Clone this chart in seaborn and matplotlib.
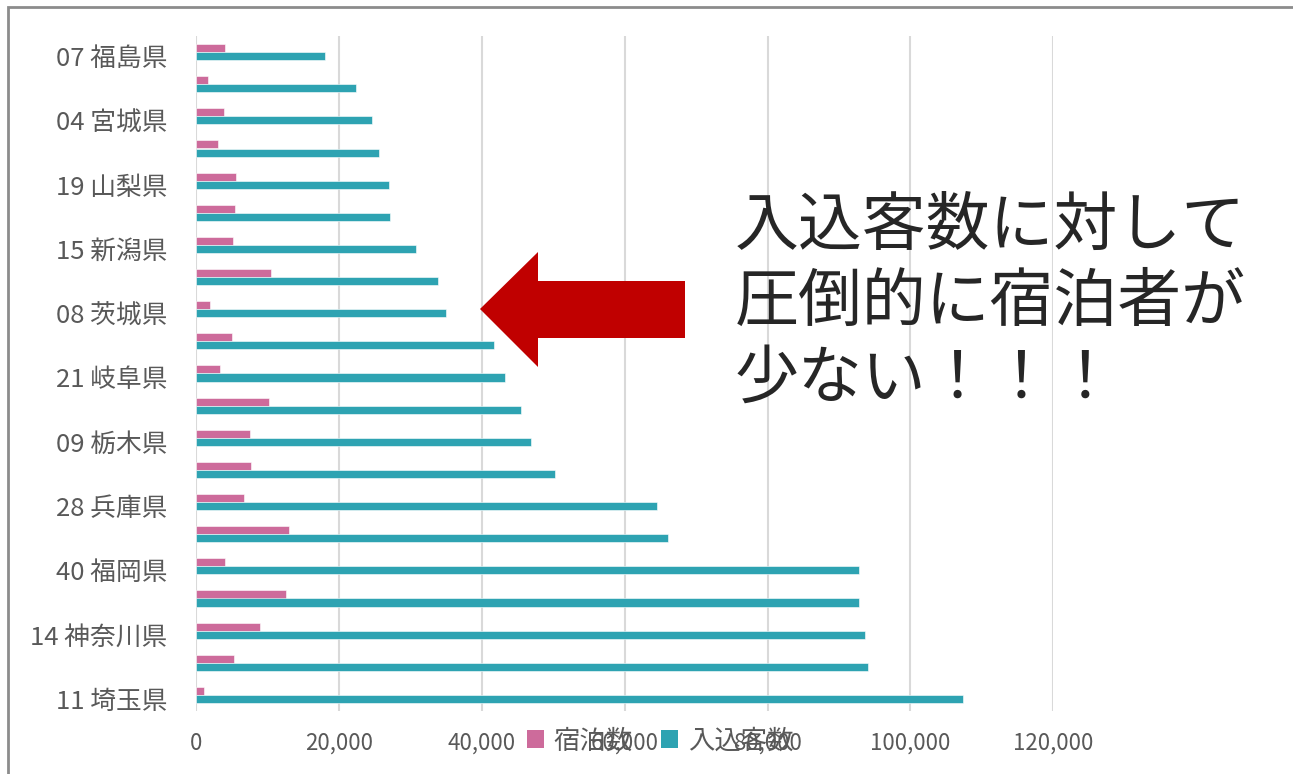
import numpy as np
import pandas as pd
import seaborn as sns
import matplotlib.pyplot as plt
import matplotlib.transforms as mtrans
from matplotlib.patches import Patch, Polygon, Rectangle
from matplotlib.ticker import FuncFormatter

sns.set_theme(style="white")
plt.rcParams['font.family'] = ['Noto Sans CJK JP', 'DejaVu Sans']

# categories top to bottom (only every other label is shown in the chart)
prefs = ['07 福島県', '29 奈良県', '04 宮城県', '25 滋賀県', '19 山梨県', '34 広島県',
         '15 新潟県', '17 石川県', '08 茨城県', '33 岡山県', '21 岐阜県', '10 群馬県',
         '09 栃木県', '12 千葉県', '28 兵庫県', '20 長野県', '40 福岡県', '22 静岡県',
         '14 神奈川県', '23 愛知県', '11 埼玉県']
shukuhaku = [4050, 1550, 3900, 3000, 5600, 5400, 5050, 10400, 1900, 4950, 3250,
             10100, 7550, 7650, 6600, 12900, 3950, 12500, 8900, 5200, 1100]
irikomi = [18000, 22300, 24600, 25600, 27000, 27100, 30800, 33800, 34900, 41700, 43200,
           45400, 46800, 50200, 64500, 66100, 92800, 92800, 93600, 94100, 107400]
series = ['宿泊数', '入込客数']
colors = ['#CD6B9B', '#2EA3B2']

df = pd.DataFrame({
    '都道府県': prefs * 2,
    '値': shukuhaku + irikomi,
    '区分': [series[0]] * len(prefs) + [series[1]] * len(prefs),
})

W, H = 1293, 774
fig = plt.figure(figsize=(W / 100, H / 100), dpi=100)
ax = fig.add_axes([196.5 / W, 1 - 711 / H, (1053 - 196.5) / W, (711 - 36) / H])

sns.barplot(data=df, y='都道府県', x='値', hue='区分', hue_order=series, orient='h',
            palette=colors, width=0.5, saturation=1, legend=False, ax=ax,
            edgecolor='white', linewidth=0.4)

ax.set_xlim(0, 120000)
ax.set_xticks(np.arange(0, 120001, 20000))
ax.xaxis.set_major_formatter(FuncFormatter(lambda v, p: f'{int(v):,}'))
ax.set_yticks(range(len(prefs)))
ax.set_yticklabels([p if i % 2 == 0 else '' for i, p in enumerate(prefs)])
ax.set_xlabel('')
ax.set_ylabel('')
ax.grid(axis='x', color='#d9d9d9', linewidth=1.5)
ax.set_axisbelow(True)
for s in ax.spines.values():
    s.set_visible(False)
ax.tick_params(axis='y', length=0, pad=21, labelsize=18.5, labelcolor='#595959')
ax.tick_params(axis='x', length=0, pad=15, labelsize=16, labelcolor='#595959')

# labels sit a little below the bar group centre in the original
shift = mtrans.ScaledTranslation(0, -4 / 100, fig.dpi_scale_trans)
for lab in ax.get_yticklabels():
    lab.set_transform(lab.get_transform() + shift)

# legend sitting over the x tick labels, like the original
handles = [Patch(facecolor=c, edgecolor='none') for c in colors]
fig.legend(handles, series, loc='center', bbox_to_anchor=(660 / W, 1 - 741 / H),
           ncol=2, frameon=False, fontsize=19, labelcolor='#595959',
           handlelength=0.65, handleheight=0.65, handletextpad=0.35, columnspacing=1.1)

# outer frame
fig.patches.append(Rectangle((8 / W, -0.2), 1.2, 1.2 - 7 / H, transform=fig.transFigure,
                             fill=False, edgecolor='#8c8c8c', linewidth=2))

# red arrow
pts = [(480, 309), (538, 252), (538, 281), (685, 281), (685, 338), (538, 338), (538, 367)]
fig.patches.append(Polygon([(x / W, 1 - y / H) for x, y in pts], closed=True,
                           transform=fig.transFigure, facecolor='#C00000', edgecolor='none'))

fig.text(735 / W, 1 - 303 / H, '入込客数に対して\n圧倒的に宿泊者が\n少ない！！！',
         ha='left', va='center', fontsize=46, color='#262626', linespacing=1.2)

fig.savefig('out.png', dpi=100)
